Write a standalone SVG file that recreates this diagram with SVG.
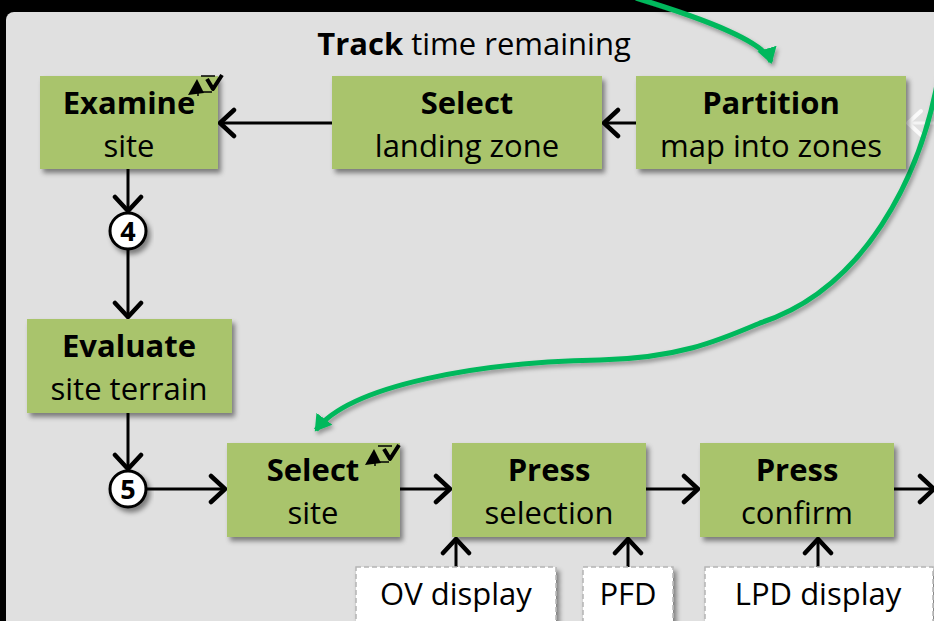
<svg xmlns="http://www.w3.org/2000/svg" width="934" height="621" viewBox="0 0 934 621">
<defs>
<style>
.node rect{fill:#a9c46c;filter:url(#sh)}
.t{font-family:"Open Sans","Liberation Sans",sans-serif;font-size:31px;fill:#000;text-anchor:middle}
.b{font-weight:bold}
.conn line{stroke:#000;stroke-width:3;fill:none}
.box rect{fill:#fff;stroke:#b4b4b4;stroke-width:1.5;stroke-dasharray:5 3;filter:url(#sh)}
.circ circle{fill:#fff;stroke:#000;stroke-width:3;filter:url(#sh)}
.g{stroke:#00b85c;stroke-width:5;fill:none;filter:url(#sh2)}
</style>
<filter id="sh" x="-10%" y="-10%" width="130%" height="140%"><feDropShadow dx="3" dy="4" stdDeviation="2.5" flood-color="#000" flood-opacity="0.45"/></filter>
<filter id="sh2" x="-10%" y="-10%" width="130%" height="130%"><feDropShadow dx="2" dy="3" stdDeviation="2" flood-color="#000" flood-opacity="0.35"/></filter>
<marker id="ah" markerUnits="userSpaceOnUse" markerWidth="24" markerHeight="32" refX="17" refY="16" orient="auto"><path d="M3,3 L17,16 L3,29" fill="none" stroke="#000" stroke-width="4.5" stroke-linecap="round" stroke-linejoin="round"/></marker>
<marker id="aw" markerUnits="userSpaceOnUse" markerWidth="22" markerHeight="30" refX="16" refY="15" orient="auto"><path d="M3,3 L16,15 L3,27" fill="none" stroke="#fafafa" stroke-width="4" stroke-linecap="round" stroke-linejoin="round"/></marker>
<marker id="ag" markerUnits="userSpaceOnUse" markerWidth="24" markerHeight="24" refX="14" refY="12" orient="auto"><path d="M0,2 L16,12 L0,22 Z" fill="#00b85c"/></marker>
<g id="icon"><path d="M0,20 L9,4 L16,18 Z" fill="#000"/><path d="M3,17 L24,17 M10,10 L10,21" stroke="#000" stroke-width="1.5"/><path d="M19,4 L25,14 L34,0" fill="none" stroke="#000" stroke-width="4" stroke-linejoin="round"/><path d="M13,1 L27,1" stroke="#000" stroke-width="1.5"/></g>
</defs>
<rect x="0" y="0" width="934" height="621" fill="#000"/>
<rect x="6" y="12" width="960" height="640" rx="8" fill="#e0e0e0"/>
<text x="474" y="55" style="font-family:'Open Sans','Liberation Sans',sans-serif;font-size:31px;text-anchor:middle"><tspan font-weight="bold">Track</tspan> time remaining</text>

<g class="conn">
<line x1="332" y1="123" x2="220" y2="123" marker-end="url(#ah)"/>
<line x1="636" y1="123" x2="604" y2="123" marker-end="url(#ah)"/>
<line x1="934" y1="123" x2="908" y2="123" style="stroke:#f4f4f4" marker-end="url(#aw)"/>
<line x1="128" y1="169" x2="128" y2="211" marker-end="url(#ah)"/>
<line x1="128" y1="249" x2="128" y2="317" marker-end="url(#ah)"/>
<line x1="128" y1="413" x2="128" y2="469" marker-end="url(#ah)"/>
<line x1="146" y1="489" x2="225" y2="489" marker-end="url(#ah)"/>
<line x1="400" y1="489" x2="450" y2="489" marker-end="url(#ah)"/>
<line x1="646" y1="489" x2="698" y2="489" marker-end="url(#ah)"/>
<line x1="894" y1="489" x2="934" y2="489" marker-end="url(#ah)"/>
<line x1="456" y1="567" x2="456" y2="539" marker-end="url(#ah)"/>
<line x1="628" y1="567" x2="628" y2="539" marker-end="url(#ah)"/>
<line x1="818" y1="567" x2="818" y2="539" marker-end="url(#ah)"/>
<path class="g" d="M636,-2 C708,20 765,42 771,62" marker-end="url(#ag)"/>
<path class="g" d="M940,68 C922,180 862,290 760,323 C720,340 680,358 600,360 C480,362 350,385 316,430" marker-end="url(#ag)"/>
</g>

<g id="examine" class="node"><rect x="40" y="76" width="178" height="93"/>
<text class="t b" x="129" y="114">Examine</text><text class="t" x="129" y="157">site</text>
<use href="#icon" x="188" y="75"/></g>
<g id="select-zone" class="node"><rect x="332" y="76" width="270" height="93"/>
<text class="t b" x="467" y="114">Select</text><text class="t" x="467" y="157">landing zone</text></g>
<g id="partition" class="node"><rect x="636" y="76" width="270" height="93"/>
<text class="t b" x="771" y="114">Partition</text><text class="t" x="771" y="157">map into zones</text></g>
<g id="evaluate" class="node"><rect x="27" y="319" width="205" height="94"/>
<text class="t b" x="129" y="357">Evaluate</text><text class="t" x="129" y="400">site terrain</text></g>
<g id="select-site" class="node"><rect x="227" y="443" width="173" height="94"/>
<text class="t b" x="313" y="481">Select</text><text class="t" x="313" y="524">site</text>
<use href="#icon" x="365" y="445"/></g>
<g id="press-selection" class="node"><rect x="452" y="443" width="194" height="94"/>
<text class="t b" x="549" y="481">Press</text><text class="t" x="549" y="524">selection</text></g>
<g id="press-confirm" class="node"><rect x="700" y="443" width="194" height="94"/>
<text class="t b" x="797" y="481">Press</text><text class="t" x="797" y="524">confirm</text></g>

<g id="c4" class="circ"><circle cx="128" cy="231" r="18"/><text class="t b" x="128" y="241" style="font-size:27px">4</text></g>
<g id="c5" class="circ"><circle cx="128" cy="489" r="18"/><text class="t b" x="128" y="499" style="font-size:27px">5</text></g>

<g id="ov" class="box"><rect x="356" y="567" width="200" height="70"/><text class="t" x="456" y="605">OV display</text></g>
<g id="pfd" class="box"><rect x="583" y="567" width="90" height="70"/><text class="t" x="628" y="605">PFD</text></g>
<g id="lpd" class="box"><rect x="705" y="567" width="228" height="70"/><text class="t" x="818" y="605">LPD display</text></g>
</svg>
